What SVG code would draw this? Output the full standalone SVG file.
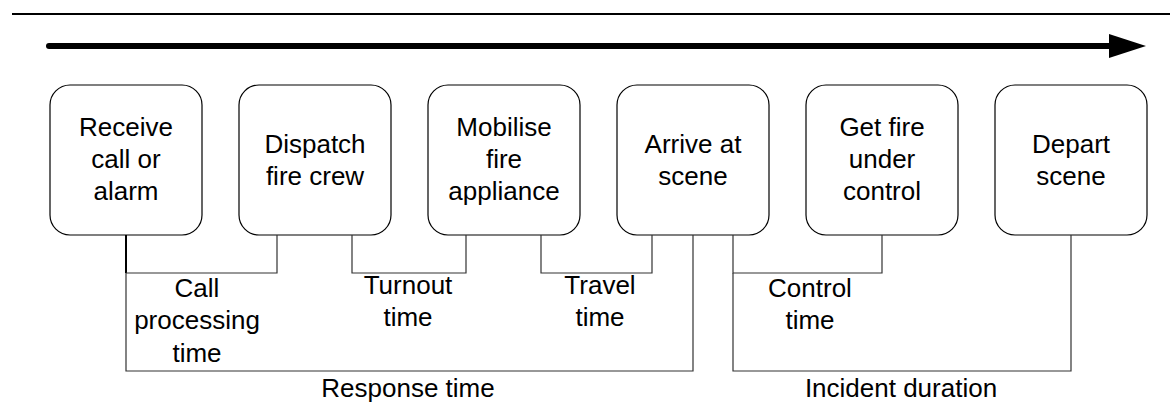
<svg xmlns="http://www.w3.org/2000/svg" width="1170" height="420" viewBox="0 0 1170 420">
<style>
.box{fill:#fff;stroke:#000;stroke-width:1.2}
.t{font-family:"Liberation Sans",Arial,sans-serif;font-size:26px;fill:#000;text-anchor:middle}
.br{fill:none;stroke:#333;stroke-width:1.2}
</style>
<rect width="1170" height="420" fill="#fff"/>
<line x1="12" y1="14" x2="1170" y2="14" stroke="#000" stroke-width="2"/>
<g id="timeline">
<line x1="49" y1="46" x2="1110" y2="46" stroke="#000" stroke-width="6" stroke-linecap="round"/>
<polygon points="1109,34 1146,46 1109,58" fill="#000"/>
</g>
<g id="n1"><rect class="box" x="50" y="85" width="152" height="150" rx="20"/>
<text class="t" x="126" y="136">Receive</text><text class="t" x="126" y="168">call or</text><text class="t" x="126" y="200">alarm</text></g>
<g id="n2"><rect class="box" x="239" y="85" width="152" height="150" rx="20"/>
<text class="t" x="315" y="153">Dispatch</text><text class="t" x="315" y="185">fire crew</text></g>
<g id="n3"><rect class="box" x="428" y="85" width="152" height="150" rx="20"/>
<text class="t" x="504" y="136">Mobilise</text><text class="t" x="504" y="168">fire</text><text class="t" x="504" y="200">appliance</text></g>
<g id="n4"><rect class="box" x="617" y="85" width="152" height="150" rx="20"/>
<text class="t" x="693" y="153">Arrive at</text><text class="t" x="693" y="185">scene</text></g>
<g id="n5"><rect class="box" x="806" y="85" width="152" height="150" rx="20"/>
<text class="t" x="882" y="136">Get fire</text><text class="t" x="882" y="168">under</text><text class="t" x="882" y="200">control</text></g>
<g id="n6"><rect class="box" x="995" y="85" width="152" height="150" rx="20"/>
<text class="t" x="1071" y="153">Depart</text><text class="t" x="1071" y="185">scene</text></g>
<g id="connectors">
<line x1="126" y1="235" x2="126" y2="273" stroke="#000" stroke-width="2"/>
<polyline class="br" points="126,273 277,273 277,235"/>
<polyline class="br" points="352,235 352,273 466,273 466,235"/>
<polyline class="br" points="541,235 541,273 652,273 652,235"/>
<polyline class="br" points="733,235 733,273 882,273 882,235"/>
<polyline class="br" points="126,273 126,371 693,371 693,235"/>
<polyline class="br" points="733,273 733,371 1071,371 1071,235"/>
</g>
<g id="labels">
<text class="t" x="197" y="297">Call</text><text class="t" x="197" y="329">processing</text><text class="t" x="197" y="362">time</text>
<text class="t" x="408" y="294">Turnout</text><text class="t" x="408" y="326">time</text>
<text class="t" x="600" y="294">Travel</text><text class="t" x="600" y="326">time</text>
<text class="t" x="810" y="297">Control</text><text class="t" x="810" y="329">time</text>
<text class="t" x="408" y="397">Response time</text>
<text class="t" x="901" y="397">Incident duration</text>
</g>
</svg>
